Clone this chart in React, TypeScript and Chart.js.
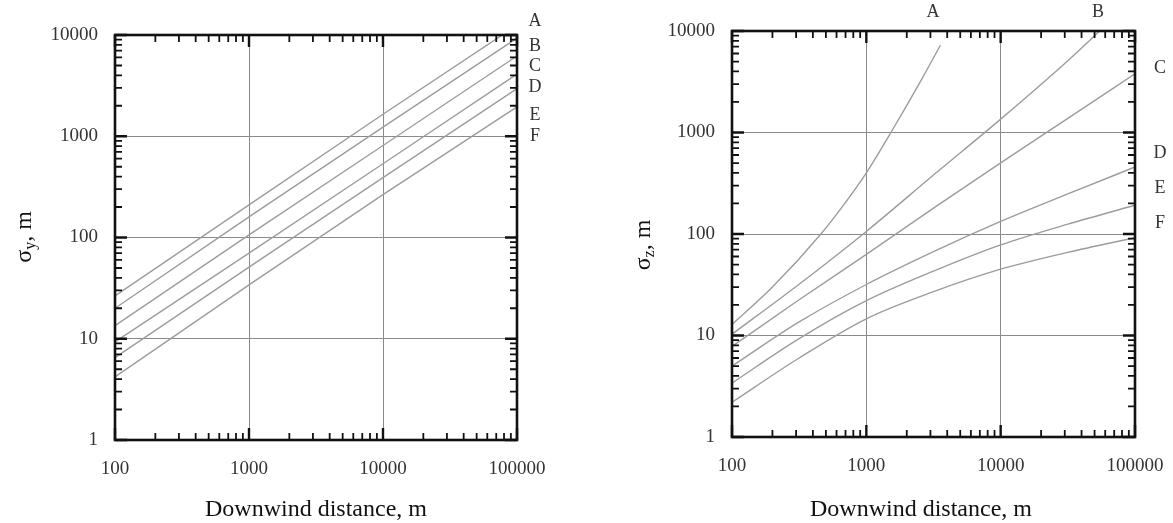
import React, { useEffect, useRef } from 'react';
import { Chart, registerables } from 'chart.js';

Chart.register(...registerables);

// ---------- axis ticks ----------
const xTickValues = [100, 1000, 10000, 100000];
const xTickLabels = ['100', '1000', '10000', '100000'];
const yTickValues = [1, 10, 100, 1000, 10000];
const yTickLabels = ['1', '10', '100', '1000', '10000'];
const stabilityClasses = ['A', 'B', 'C', 'D', 'E', 'F'];

// ---------- sigma y (horizontal dispersion) ----------
const sigmaYDistance = [100, 1000, 10000, 100000];
const sigmaYA = [26.5, 210, 1650, 12500];
const sigmaYB = [20, 160, 1230, 9300];
const sigmaYC = [13.5, 106, 810, 6200];
const sigmaYD = [9.3, 70, 535, 4100];
const sigmaYE = [6.5, 51, 390, 2950];
const sigmaYF = [4.2, 34, 265, 1950];

// ---------- sigma z (vertical dispersion) ----------
const sigmaZADistance = [100, 200, 459, 700, 1000, 1524, 2500, 3560];
const sigmaZA = [12.8, 30, 100, 205, 401, 1000, 3100, 7240];
const sigmaZBDistance = [100, 316, 1000, 3162, 10000, 31623, 54600];
const sigmaZB = [10.3, 32, 106, 381, 1355, 5100, 10000];
const sigmaZDistance = [100, 316, 1000, 3162, 10000, 31623, 100000];
const sigmaZC = [7.8, 22.5, 63, 180, 502, 1380, 3790];
const sigmaZD = [5.0, 13.6, 31.8, 67, 133, 248, 457];
const sigmaZE = [3.4, 9.3, 22, 43, 78, 125, 192];
const sigmaZF = [2.2, 6.0, 14.6, 27, 45, 66, 92];

const SERIF = '"Liberation Serif", "DejaVu Serif", serif';

type Series = { name: string; x: number[]; y: number[] };

type PanelCfg = {
  width: number;
  height: number;
  yAxisWidth: number;
  xAxisHeight: number;
  padTop: number;
  padRight: number;
  curved: boolean;
  series: Series[];
  yTitleSub: string;
  yTitleX: number;
  yTitleY: number;
  xTitle: string;
  xTitleX: number;
  xTitleY: number;
  classLabelPos: [number, number][];
};

function decadesBetween(min: number, max: number): number[] {
  const out: number[] = [];
  const e0 = Math.floor(Math.log10(min) + 1e-9);
  const e1 = Math.ceil(Math.log10(max) - 1e-9);
  for (let e = e0; e <= e1; e++) out.push(Math.pow(10, e));
  return out;
}

function makeFramePlugin(cfg: PanelCfg) {
  return {
    id: 'frameAndText',
    afterDatasetsDraw(chart: any) {
      const ctx: CanvasRenderingContext2D = chart.ctx;
      const { left, right, top, bottom } = chart.chartArea;
      const xs = chart.scales.x;
      const ys = chart.scales.y;
      ctx.save();
      ctx.strokeStyle = '#111';
      ctx.lineCap = 'butt';
      // x ticks (bottom & top, inward)
      for (const d of decadesBetween(xs.min, xs.max)) {
        for (let m = 1; m <= 9; m++) {
          const v = d * m;
          if (v < xs.min * 0.999 || v > xs.max * 1.001) continue;
          const px = xs.getPixelForValue(v);
          const len = m === 1 ? 12 : 7;
          ctx.lineWidth = m === 1 ? 2.4 : 1.8;
          ctx.beginPath();
          ctx.moveTo(px, bottom);
          ctx.lineTo(px, bottom - len);
          ctx.moveTo(px, top);
          ctx.lineTo(px, top + len);
          ctx.stroke();
        }
      }
      // y ticks (left & right, inward)
      for (const d of decadesBetween(ys.min, ys.max)) {
        for (let m = 1; m <= 9; m++) {
          const v = d * m;
          if (v < ys.min * 0.999 || v > ys.max * 1.001) continue;
          const py = ys.getPixelForValue(v);
          const len = m === 1 ? 12 : 7;
          ctx.lineWidth = m === 1 ? 2.4 : 1.8;
          ctx.beginPath();
          ctx.moveTo(left, py);
          ctx.lineTo(left + len, py);
          ctx.moveTo(right, py);
          ctx.lineTo(right - len, py);
          ctx.stroke();
        }
      }
      // frame
      ctx.lineWidth = 2.6;
      ctx.strokeRect(left, top, right - left, bottom - top);

      // stability class labels
      ctx.fillStyle = '#333';
      ctx.font = `18px ${SERIF}`;
      ctx.textAlign = 'center';
      ctx.textBaseline = 'middle';
      cfg.classLabelPos.forEach((p, i) => {
        ctx.fillText(stabilityClasses[i], p[0], p[1]);
      });

      // x title
      ctx.fillStyle = '#111';
      ctx.font = `24px ${SERIF}`;
      ctx.textAlign = 'center';
      ctx.textBaseline = 'middle';
      ctx.fillText(cfg.xTitle, cfg.xTitleX, cfg.xTitleY);

      // y title with subscript, rotated
      ctx.save();
      ctx.translate(cfg.yTitleX, cfg.yTitleY);
      ctx.rotate(-Math.PI / 2);
      const mainFont = `24px ${SERIF}`;
      const subFont = `16px ${SERIF}`;
      ctx.font = mainFont;
      const wSigma = ctx.measureText('σ').width;
      const wRest = ctx.measureText(', m').width;
      ctx.font = subFont;
      const wSub = ctx.measureText(cfg.yTitleSub).width;
      const total = wSigma + wSub + wRest;
      let cx = -total / 2;
      ctx.textAlign = 'left';
      ctx.textBaseline = 'alphabetic';
      ctx.font = mainFont;
      ctx.fillText('σ', cx, 8);
      cx += wSigma;
      ctx.font = subFont;
      ctx.fillText(cfg.yTitleSub, cx, 12);
      cx += wSub;
      ctx.font = mainFont;
      ctx.fillText(', m', cx, 8);
      ctx.restore();

      ctx.restore();
    },
  };
}

function Panel({ cfg }: { cfg: PanelCfg }) {
  const ref = useRef<HTMLCanvasElement | null>(null);
  useEffect(() => {
    if (!ref.current) return;
    const tickFont = { family: SERIF, size: 19 };
    const chart = new Chart(ref.current, {
      type: 'line',
      data: {
        datasets: cfg.series.map((s) => ({
          label: s.name,
          data: s.x.map((x, i) => ({ x, y: s.y[i] })),
          borderColor: '#9c9c9c',
          borderWidth: 1.4,
          pointRadius: 0,
          fill: false,
          tension: 0,
          cubicInterpolationMode: cfg.curved ? 'monotone' : 'default',
        })),
      },
      options: {
        responsive: false,
        animation: false,
        layout: { padding: { left: 0, right: cfg.padRight, top: cfg.padTop, bottom: 0 } },
        plugins: {
          legend: { display: false },
          tooltip: { enabled: false },
          title: { display: false },
        },
        scales: {
          x: {
            type: 'logarithmic',
            position: 'bottom',
            min: 100,
            max: 100000,
            afterBuildTicks: (s: any) => {
              s.ticks = xTickValues.map((v) => ({ value: v }));
            },
            afterFit: (s: any) => {
              s.height = cfg.xAxisHeight;
              s.paddingLeft = 0;
              s.paddingRight = 0;
            },
            grid: { color: '#8a8a8a', lineWidth: 1, drawTicks: false },
            border: { display: false },
            ticks: {
              autoSkip: false,
              maxRotation: 0,
              padding: 18,
              color: '#333',
              font: tickFont,
              callback: (v: any) => xTickLabels[xTickValues.indexOf(Number(v))] ?? '',
            },
          },
          y: {
            type: 'logarithmic',
            position: 'left',
            min: 1,
            max: 10000,
            afterBuildTicks: (s: any) => {
              s.ticks = yTickValues.map((v) => ({ value: v }));
            },
            afterFit: (s: any) => {
              s.width = cfg.yAxisWidth;
              s.paddingTop = 0;
              s.paddingBottom = 0;
            },
            grid: { color: '#8a8a8a', lineWidth: 1, drawTicks: false },
            border: { display: false },
            ticks: {
              autoSkip: false,
              padding: 17,
              color: '#333',
              font: tickFont,
              callback: (v: any) => yTickLabels[yTickValues.indexOf(Number(v))] ?? '',
            },
          },
        },
      } as any,
      plugins: [makeFramePlugin(cfg)],
    });
    return () => chart.destroy();
  }, [cfg]);
  return (
    <canvas
      ref={ref}
      width={cfg.width}
      height={cfg.height}
      style={{ width: cfg.width, height: cfg.height, display: 'block' }}
    />
  );
}

const leftCfg: PanelCfg = {
  width: 580,
  height: 523,
  yAxisWidth: 115,
  xAxisHeight: 83,
  padTop: 35,
  padRight: 63,
  curved: false,
  series: [
    { name: 'A', x: sigmaYDistance, y: sigmaYA },
    { name: 'B', x: sigmaYDistance, y: sigmaYB },
    { name: 'C', x: sigmaYDistance, y: sigmaYC },
    { name: 'D', x: sigmaYDistance, y: sigmaYD },
    { name: 'E', x: sigmaYDistance, y: sigmaYE },
    { name: 'F', x: sigmaYDistance, y: sigmaYF },
  ],
  yTitleSub: 'y',
  yTitleX: 23,
  yTitleY: 237,
  xTitle: 'Downwind distance, m',
  xTitleX: 316,
  xTitleY: 510,
  classLabelPos: [
    [535, 21],
    [535, 46],
    [535, 66],
    [535, 87],
    [535, 115],
    [535, 136],
  ],
};

const rightCfg: PanelCfg = {
  width: 593,
  height: 523,
  yAxisWidth: 152,
  xAxisHeight: 86,
  padTop: 31,
  padRight: 38,
  curved: true,
  series: [
    { name: 'A', x: sigmaZADistance, y: sigmaZA },
    { name: 'B', x: sigmaZBDistance, y: sigmaZB },
    { name: 'C', x: sigmaZDistance, y: sigmaZC },
    { name: 'D', x: sigmaZDistance, y: sigmaZD },
    { name: 'E', x: sigmaZDistance, y: sigmaZE },
    { name: 'F', x: sigmaZDistance, y: sigmaZF },
  ],
  yTitleSub: 'z',
  yTitleX: 62,
  yTitleY: 245,
  xTitle: 'Downwind distance, m',
  xTitleX: 341,
  xTitleY: 510,
  classLabelPos: [
    [353, 12],
    [518, 12],
    [580, 68],
    [580, 153],
    [580, 188],
    [580, 223],
  ],
};

export default function App() {
  return (
    <div
      style={{
        position: 'absolute',
        left: 0,
        top: 0,
        width: 1173,
        height: 523,
        background: '#fff',
        overflow: 'hidden',
      }}
    >
      <div style={{ position: 'absolute', left: 0, top: 0 }}>
        <Panel cfg={leftCfg} />
      </div>
      <div style={{ position: 'absolute', left: 580, top: 0 }}>
        <Panel cfg={rightCfg} />
      </div>
    </div>
  );
}
